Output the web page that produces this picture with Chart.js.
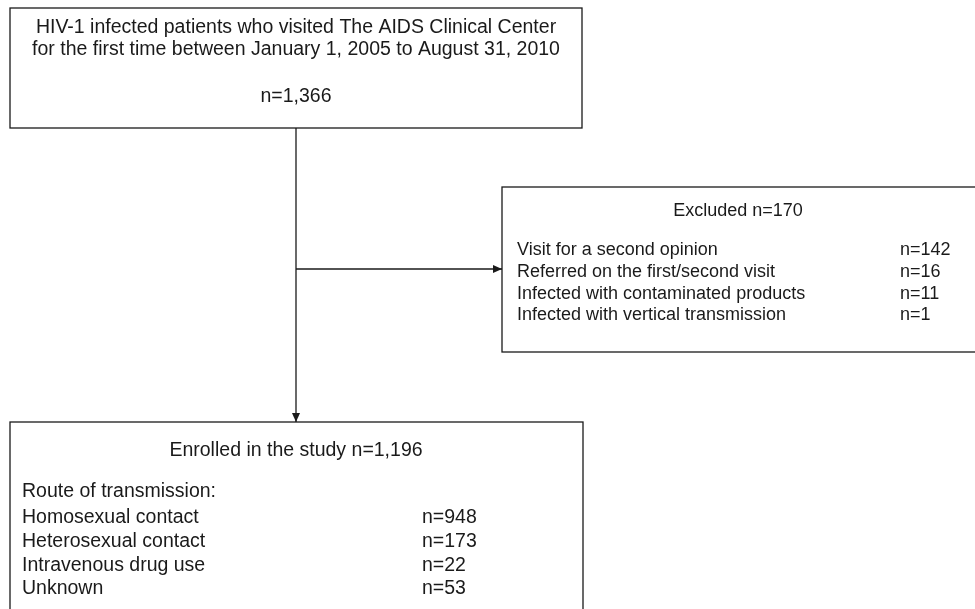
<!DOCTYPE html>
<html>
<head>
<meta charset="utf-8">
<script src="https://cdn.jsdelivr.net/npm/chart.js@4.4.1/dist/chart.umd.min.js"></script>
<style>
  html, body { margin: 0; padding: 0; background: #fff; }
  #wrap { width: 975px; height: 609px; position: relative; }
</style>
</head>
<body>
<div id="wrap"><canvas id="flow"></canvas></div>
<script>
'use strict';

// ─── Data ─────────────────────────────────────────────────────────────────────
const startLines = [
  'HIV-1 infected patients who visited The AIDS Clinical Center',
  'for the first time between January 1, 2005 to August 31, 2010'
];
const startTotal = 1366;
const excludedReasons = [
  'Visit for a second opinion',
  'Referred on the first/second visit',
  'Infected with contaminated products',
  'Infected with vertical transmission'
];
const excludedCounts = [142, 16, 11, 1];
const routeTitle = 'Route of transmission:';
const routeLabels = ['Homosexual contact', 'Heterosexual contact', 'Intravenous drug use', 'Unknown'];
const routeCounts = [948, 173, 22, 53];

const excludedTotal = excludedCounts.reduce((a, b) => a + b, 0);
const enrolledTotal = startTotal - excludedTotal;
const fN = n => 'n=' + n.toLocaleString('en-US');

// ─── Layout (axis units = page pixels) ────────────────────────────────────────
const W = 975, H = 609;
const boxTop  = {x0: 10,  y0: 8,   x1: 582, y1: 128};
const boxExcl = {x0: 502, y0: 187, x1: 990, y1: 352};
const boxEnr  = {x0: 10,  y0: 422, x1: 583, y1: 630};
const stemX = 296, branchY = 269;
const FAMILY = '"Liberation Sans", Arial, sans-serif';
const INK = '#1a1a1a';

const flowPlugin = {
  id: 'flow',
  afterDraw(chart) {
    const {ctx, scales: {x, y}} = chart;
    const px = v => x.getPixelForValue(v), py = v => y.getPixelForValue(v);

    ctx.save();
    ctx.strokeStyle = INK;
    ctx.fillStyle = INK;
    ctx.lineWidth = 1.3;

    const box = b => ctx.strokeRect(px(b.x0), py(b.y0), px(b.x1) - px(b.x0), py(b.y1) - py(b.y0));
    [boxTop, boxExcl, boxEnr].forEach(box);

    const arrow = (x1, y1, x2, y2) => {
      ctx.beginPath(); ctx.moveTo(px(x1), py(y1)); ctx.lineTo(px(x2), py(y2)); ctx.stroke();
      const a = Math.atan2(py(y2) - py(y1), px(x2) - px(x1)), L = 9, w = 4;
      ctx.beginPath();
      ctx.moveTo(px(x2), py(y2));
      ctx.lineTo(px(x2) - L * Math.cos(a) + w * Math.sin(a), py(y2) - L * Math.sin(a) - w * Math.cos(a));
      ctx.lineTo(px(x2) - L * Math.cos(a) - w * Math.sin(a), py(y2) - L * Math.sin(a) + w * Math.cos(a));
      ctx.closePath(); ctx.fill();
    };
    arrow(stemX, boxTop.y1, stemX, boxEnr.y0);
    arrow(stemX, branchY, boxExcl.x0, branchY);

    ctx.textBaseline = 'middle';
    const text = (s, xv, yv, align) => { ctx.textAlign = align; ctx.fillText(s, px(xv), py(yv)); };

    // first box
    ctx.font = '19.5px ' + FAMILY;
    startLines.forEach((s, i) => text(s, stemX, 28 + i * 22, 'center'));
    text(fN(startTotal), stemX, 97, 'center');

    // excluded box
    ctx.font = '18px ' + FAMILY;
    text('Excluded ' + fN(excludedTotal), 738, 211, 'center');
    excludedReasons.forEach((s, i) => {
      text(s, 517, 250 + i * 21.8, 'left');
      text(fN(excludedCounts[i]), 900, 250 + i * 21.8, 'left');
    });

    // enrolled box
    ctx.font = '19.5px ' + FAMILY;
    text('Enrolled in the study ' + fN(enrolledTotal), stemX, 451, 'center');
    text(routeTitle, 22, 492, 'left');
    routeLabels.forEach((s, i) => {
      text(s, 22, 518 + i * 23.6, 'left');
      text(fN(routeCounts[i]), 422, 518 + i * 23.6, 'left');
    });
    ctx.restore();
  }
};

new Chart(document.getElementById('flow'), {
  type: 'scatter',
  data: {datasets: [{data: [], pointRadius: 0}]},
  options: {
    responsive: true,
    maintainAspectRatio: false,
    animation: false,
    layout: {padding: 0},
    scales: {
      x: {type: 'linear', min: 0, max: W, display: false},
      y: {type: 'linear', min: 0, max: H, reverse: true, display: false}
    },
    plugins: {legend: {display: false}, tooltip: {enabled: false}}
  },
  plugins: [flowPlugin]
});
</script>
</body>
</html>
